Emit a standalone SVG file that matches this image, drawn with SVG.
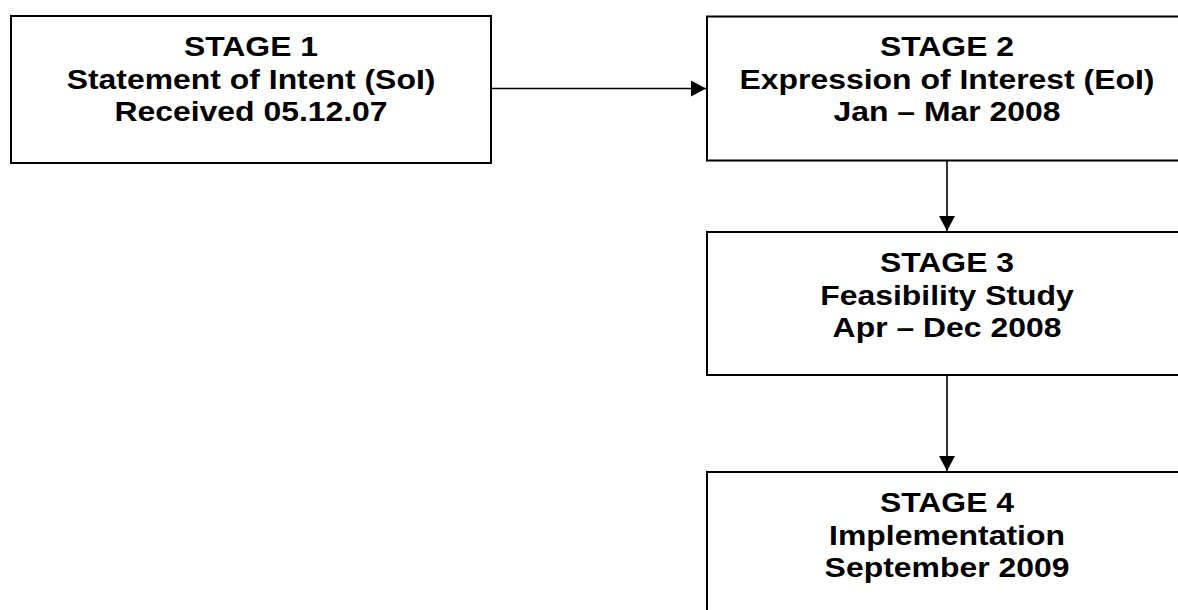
<svg xmlns="http://www.w3.org/2000/svg" width="1178" height="610" viewBox="0 0 1178 610">
<style>
.box{fill:#fff;stroke:#000;stroke-width:2}
.t{font-family:"Liberation Sans",Arial,sans-serif;font-weight:bold;font-size:28.5px;fill:#000;text-anchor:middle}
.c{fill:none;stroke:#000;stroke-width:1.6}
</style>
<defs>
<marker id="ah" markerUnits="userSpaceOnUse" markerWidth="16" markerHeight="17" refX="15" refY="8" orient="auto">
<path d="M0,0 L15,8 L0,16 Z" fill="#000"/>
</marker>
</defs>
<rect width="1178" height="610" fill="#fff"/>
<g id="connectors">
<line class="c" x1="491" y1="88.5" x2="706" y2="88.5" marker-end="url(#ah)"/>
<line class="c" x1="947" y1="161" x2="947" y2="231" marker-end="url(#ah)"/>
<line class="c" x1="947" y1="376" x2="947" y2="471" marker-end="url(#ah)"/>
</g>
<g id="stage1">
<rect class="box" x="11" y="16" width="480" height="147"/>
<g transform="matrix(1.12 0 0 1 251 0)">
<text class="t" x="0" y="56.5">STAGE 1</text>
<text class="t" x="0" y="89">Statement of Intent (SoI)</text>
<text class="t" x="0" y="121.5">Received 05.12.07</text>
</g>
</g>
<g id="stage2">
<rect class="box" x="707" y="16.5" width="482" height="144"/>
<g transform="matrix(1.12 0 0 1 947 0)">
<text class="t" x="0" y="56">STAGE 2</text>
<text class="t" x="0" y="89">Expression of Interest (EoI)</text>
<text class="t" x="0" y="121.5">Jan – Mar 2008</text>
</g>
</g>
<g id="stage3">
<rect class="box" x="707" y="232" width="482" height="143"/>
<g transform="matrix(1.12 0 0 1 947 0)">
<text class="t" x="0" y="272.5">STAGE 3</text>
<text class="t" x="0" y="305">Feasibility Study</text>
<text class="t" x="0" y="337.5">Apr – Dec 2008</text>
</g>
</g>
<g id="stage4">
<rect class="box" x="707" y="472" width="482" height="160"/>
<g transform="matrix(1.12 0 0 1 947 0)">
<text class="t" x="0" y="512.5">STAGE 4</text>
<text class="t" x="0" y="545">Implementation</text>
<text class="t" x="0" y="577.5">September 2009</text>
</g>
</g>
</svg>
